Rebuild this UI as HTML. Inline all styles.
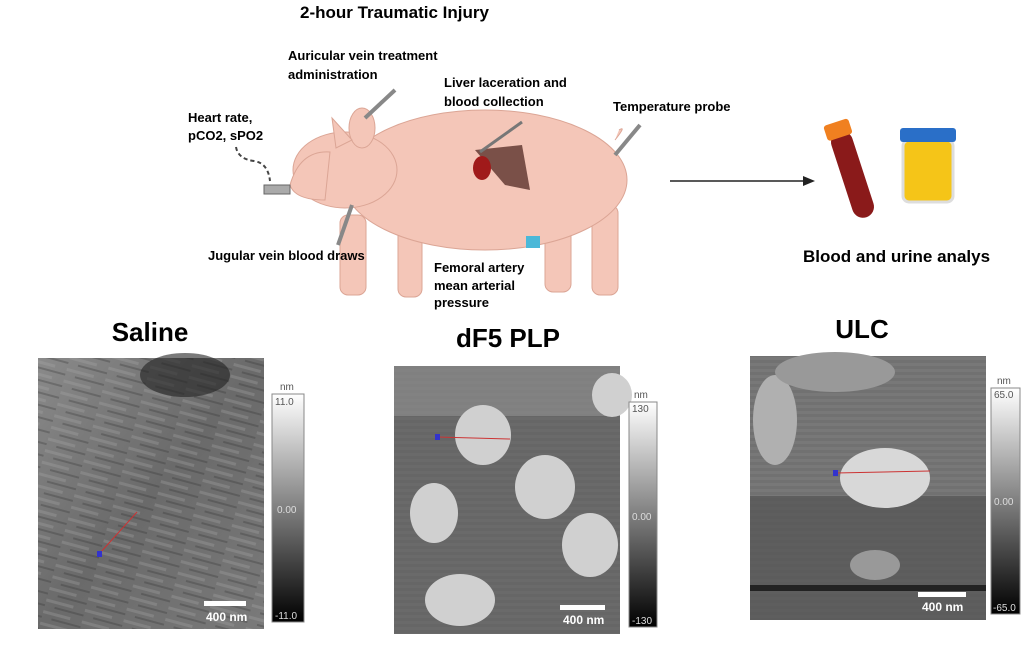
<!DOCTYPE html>
<html><head><style>
body{margin:0;width:1024px;height:640px;background:#fff;overflow:hidden;font-family:"Liberation Sans",sans-serif}
</style></head><body>
<svg width="1024" height="640" xmlns="http://www.w3.org/2000/svg" font-family="Liberation Sans, sans-serif">
<defs>
<linearGradient id="cb" x1="0" y1="0" x2="0" y2="1"><stop offset="0" stop-color="#fff"/><stop offset="1" stop-color="#000"/></linearGradient>
<linearGradient id="sal" x1="0" y1="0" x2="1" y2="1"><stop offset="0" stop-color="#8a8a8a"/><stop offset=".5" stop-color="#6a6a6a"/><stop offset="1" stop-color="#7a7a7a"/></linearGradient>
<pattern id="streaks" width="40" height="12" patternUnits="userSpaceOnUse" patternTransform="rotate(15)"><rect y="2" width="28" height="3" fill="#aaa" opacity=".3"/><rect x="10" y="8" width="30" height="2" fill="#333" opacity=".3"/></pattern>
<pattern id="hl" width="10" height="6" patternUnits="userSpaceOnUse"><rect width="10" height="3" fill="#555" opacity=".2"/></pattern>
</defs>
<!-- pig -->
<g fill="#f4c6b8" stroke="#dba595" stroke-width="1">
<rect x="340" y="215" width="26" height="80" rx="8"/><rect x="398" y="222" width="24" height="75" rx="8"/>
<rect x="545" y="212" width="26" height="80" rx="8"/><rect x="592" y="205" width="26" height="90" rx="8"/>
<ellipse cx="485" cy="180" rx="142" ry="70"/>
<ellipse cx="345" cy="170" rx="52" ry="38"/>
<path d="M290 185 Q300 150 330 152 L325 200 Q295 200 290 185Z"/>
<ellipse cx="362" cy="128" rx="13" ry="20"/><path d="M332 118 L352 140 L336 148Z"/>
<path d="M615 140 q12 -15 4 -10"/>
</g>
<path d="M475 150 L522 145 L530 190 L505 185 Z" fill="#7a5048"/>
<ellipse cx="482" cy="168" rx="9" ry="12" fill="#a01a1a"/>
<line x1="480" y1="152" x2="522" y2="122" stroke="#777" stroke-width="3"/>
<line x1="365" y1="118" x2="395" y2="90" stroke="#888" stroke-width="4"/>
<line x1="615" y1="155" x2="640" y2="125" stroke="#888" stroke-width="4"/>
<line x1="338" y1="245" x2="352" y2="205" stroke="#888" stroke-width="4"/>
<rect x="264" y="185" width="26" height="9" fill="#aaa" stroke="#666"/>
<path d="M236 147 q2 12 18 14 q14 2 16 20" fill="none" stroke="#444" stroke-width="2" stroke-dasharray="4 3"/>
<rect x="526" y="236" width="14" height="12" fill="#4bb8d8"/>
<text x="300" y="18" font-size="17" font-weight="bold">2-hour  Traumatic Injury</text>
<g font-size="13" font-weight="bold">
<text x="288" y="60">Auricular vein treatment</text><text x="288" y="79">administration</text>
<text x="444" y="87">Liver laceration and</text><text x="444" y="106">blood collection</text>
<text x="613" y="111">Temperature probe</text>
<text x="188" y="122">Heart rate,</text><text x="188" y="140">pCO2, sPO2</text>
<text x="208" y="260">Jugular vein blood draws</text>
<text x="434" y="272">Femoral artery</text><text x="434" y="290">mean arterial</text><text x="434" y="307">pressure</text>
</g>
<text x="803" y="262" font-size="17" font-weight="bold">Blood and urine analys</text>
<!-- arrow -->
<line x1="670" y1="181" x2="805" y2="181" stroke="#222" stroke-width="1.5"/>
<path d="M815 181 L803 176 L803 186Z" fill="#222"/>
<!-- tubes -->
<g transform="rotate(-18 850 170)"><rect x="840" y="130" width="22" height="90" rx="11" fill="#8a1a1a"/><rect x="838" y="120" width="26" height="16" rx="3" fill="#f08020"/></g>
<rect x="903" y="140" width="50" height="62" rx="6" fill="#f5c518" stroke="#ddd" stroke-width="3"/>
<rect x="900" y="128" width="56" height="14" rx="3" fill="#2a6fc8"/>
<!-- titles -->
<g font-size="26" font-weight="bold" text-anchor="middle">
<text x="150" y="341">Saline</text><text x="508" y="347">dF5 PLP</text><text x="862" y="338">ULC</text></g>
<!-- saline -->
<rect x="38" y="358" width="226" height="271" fill="url(#sal)"/>
<rect x="38" y="358" width="226" height="271" fill="url(#streaks)"/>
<ellipse cx="185" cy="375" rx="45" ry="22" fill="#222" opacity=".6"/>
<line x1="100" y1="553" x2="137" y2="512" stroke="#c33" stroke-width="1"/><rect x="97" y="551" width="5" height="6" fill="#33c"/>
<rect x="204" y="601" width="42" height="5" fill="#fff"/><text x="206" y="621" font-size="12" font-weight="bold" fill="#fff">400 nm</text>
<rect x="272" y="394" width="32" height="228" fill="url(#cb)" stroke="#888"/>
<g font-size="10" fill="#555"><text x="280" y="390">nm</text><text x="275" y="405">11.0</text><text x="277" y="513" fill="#ddd">0.00</text><text x="275" y="619" fill="#ddd">-11.0</text></g>
<!-- dF5 -->
<rect x="394" y="366" width="226" height="268" fill="#6a6a6a"/>
<rect x="394" y="366" width="226" height="268" fill="url(#hl)"/>
<rect x="394" y="366" width="226" height="50" fill="#999" opacity=".5"/>
<g fill="#d0d0d0"><ellipse cx="483" cy="435" rx="28" ry="30"/><ellipse cx="545" cy="487" rx="30" ry="32"/><ellipse cx="434" cy="513" rx="24" ry="30"/><ellipse cx="590" cy="545" rx="28" ry="32"/><ellipse cx="460" cy="600" rx="35" ry="26"/><ellipse cx="612" cy="395" rx="20" ry="22"/></g>
<line x1="437" y1="437" x2="510" y2="439" stroke="#c33"/><rect x="435" y="434" width="5" height="6" fill="#33c"/>
<rect x="560" y="605" width="45" height="5" fill="#fff"/><text x="563" y="624" font-size="12" font-weight="bold" fill="#fff">400 nm</text>
<rect x="629" y="402" width="28" height="225" fill="url(#cb)" stroke="#888"/>
<g font-size="10" fill="#555"><text x="634" y="398">nm</text><text x="632" y="412">130</text><text x="632" y="520" fill="#ddd">0.00</text><text x="632" y="624" fill="#ddd">-130</text></g>
<!-- ULC -->
<rect x="750" y="356" width="236" height="264" fill="#5e5e5e"/>
<rect x="750" y="356" width="236" height="140" fill="#8a8a8a" opacity=".6"/>
<rect x="750" y="356" width="236" height="264" fill="url(#hl)"/>
<ellipse cx="775" cy="420" rx="22" ry="45" fill="#b0b0b0"/>
<ellipse cx="885" cy="478" rx="45" ry="30" fill="#d8d8d8"/>
<ellipse cx="835" cy="372" rx="60" ry="20" fill="#999"/>
<ellipse cx="875" cy="565" rx="25" ry="15" fill="#999"/>
<rect x="750" y="585" width="236" height="6" fill="#222"/>
<line x1="836" y1="473" x2="930" y2="471" stroke="#c33"/><rect x="833" y="470" width="5" height="6" fill="#33c"/>
<rect x="918" y="592" width="48" height="5" fill="#fff"/><text x="922" y="611" font-size="12" font-weight="bold" fill="#fff">400 nm</text>
<rect x="991" y="388" width="29" height="226" fill="url(#cb)" stroke="#888"/>
<g font-size="10" fill="#555"><text x="997" y="384">nm</text><text x="994" y="398">65.0</text><text x="994" y="505" fill="#ddd">0.00</text><text x="993" y="611" fill="#ddd">-65.0</text></g>
</svg>
</body></html>
